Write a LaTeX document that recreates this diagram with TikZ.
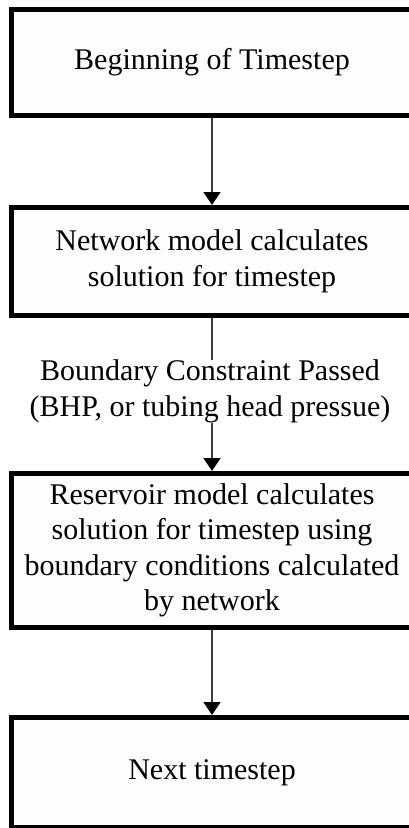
\documentclass[tikz,border=0pt]{standalone}
\usepackage{fontspec}
\setmainfont{Liberation Serif}
\usetikzlibrary{arrows.meta}
\definecolor{boxfill}{RGB}{252,253,255}
\definecolor{linkgray}{RGB}{60,60,60}
\tikzset{
  stepbox/.style={draw=black, line width=5pt, fill=boxfill, minimum width=401pt,
    inner sep=0pt, align=center, font=\fontsize{30}{35.5}\selectfont},
  flow/.style={draw=linkgray, line width=1.4pt,
    -{Triangle[width=17pt,length=13pt,color=black]}},
  plain/.style={draw=linkgray, line width=1.4pt},
  note/.style={inner sep=0pt, minimum height=63pt, align=center,
    font=\fontsize{30}{35.5}\selectfont}
}
\begin{document}
\begin{tikzpicture}[x=1pt,y=-1pt]
  \useasboundingbox (0,0) rectangle (409,828);
  \fill[white] (0,0) rectangle (409,828);

  \node[stepbox, minimum height=106pt] (begin) at (212,62.5) {Beginning of Timestep};
  \node[stepbox, minimum height=108pt] (network) at (212,261.5)
    {Network model calculates\\solution for timestep};
  \node[note] (passed) at (210,391.5)
    {Boundary Constraint Passed\\(BHP, or tubing head pressue)};
  \node[stepbox, minimum height=154pt] (reservoir) at (212,550.5)
    {Reservoir model calculates\\solution for timestep using\\boundary conditions calculated\\by network};
  \node[stepbox, minimum height=110pt] (next) at (212,772.5) {Next timestep};

  \draw[flow] (begin.south) -- (network.north);
  \draw[plain] (network.south) -- (network.south |- passed.north);
  \draw[flow] (network.south |- passed.south) -- (reservoir.north);
  \draw[flow] (reservoir.south) -- (next.north);
\end{tikzpicture}
\end{document}
